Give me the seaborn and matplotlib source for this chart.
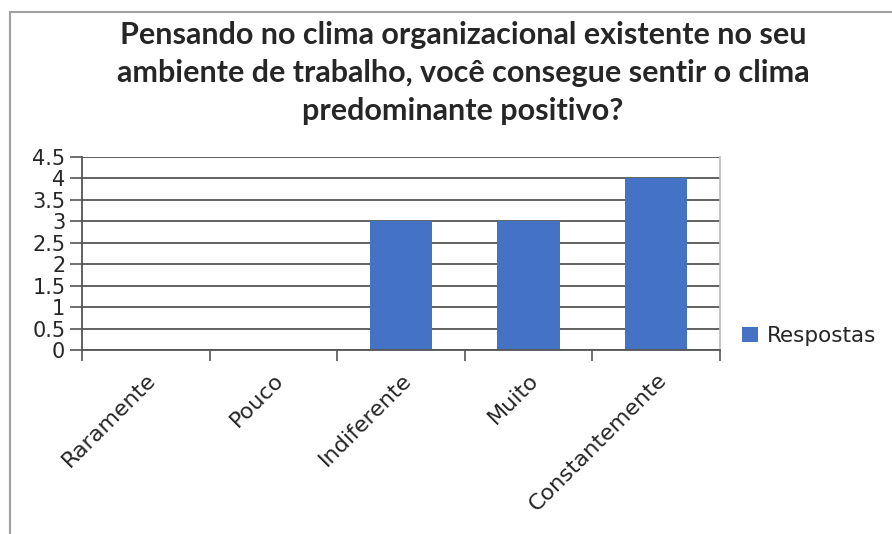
import matplotlib
matplotlib.use("Agg")
import matplotlib.pyplot as plt
import seaborn as sns
import pandas as pd
from matplotlib.patches import Patch

categories = ["Raramente", "Pouco", "Indiferente", "Muito", "Constantemente"]
values = [0, 0, 3, 3, 4]
series_name = "Respostas"
yticks = [0, 0.5, 1, 1.5, 2, 2.5, 3, 3.5, 4, 4.5]
ytick_labels = ["0", "0.5", "1", "1.5", "2", "2.5", "3", "3.5", "4", "4.5"]
title = ("Pensando no clima organizacional existente no seu\n"
         "ambiente de trabalho, você consegue sentir o clima\n"
         "predominante positivo?")

sns.set_theme(style="white")
plt.rcParams['font.family'] = ['DejaVu Sans']

df = pd.DataFrame({"cat": categories, "val": values, "serie": series_name})

fig = plt.figure(figsize=(8.92, 5.34), dpi=100)
ax = fig.add_axes([82/892, 1-350/534, (720-82)/892, (350-157)/534])

bar_color = "#4472C4"
sns.barplot(data=df, x="cat", y="val", color=bar_color, width=0.49,
            ax=ax, saturation=1, order=categories)
for p in ax.patches:
    p.set_edgecolor("none")

ax.set_xlim(-0.5, len(categories) - 0.5)
ax.set_ylim(0, 4.5)
ax.set_yticks(yticks)
ax.set_yticklabels(ytick_labels, fontsize=15)
ax.yaxis.grid(True, color="#555555", linewidth=1.3)
ax.set_axisbelow(True)
ax.set_xlabel("")
ax.set_ylabel("")

# x ticks at category boundaries, labels centered
ax.set_xticks([i - 0.5 for i in range(len(categories) + 1)])
ax.set_xticklabels([])
ax.set_xticks(range(len(categories)), minor=True)
ax.set_xticklabels(categories, minor=True, rotation=45, ha="right",
                   va="top", rotation_mode="anchor", fontsize=16)
ax.tick_params(axis="x", which="major", length=8, width=1.2, color="#555555",
               direction="out", bottom=True)
ax.tick_params(axis="x", which="minor", length=0, pad=14)
ax.tick_params(axis="y", length=9, width=1.2, color="#555555", direction="out",
               left=True, pad=3)

for s in ["left", "bottom"]:
    ax.spines[s].set_color("#555555")
    ax.spines[s].set_linewidth(1.3)
ax.spines["top"].set_visible(False)
ax.spines["right"].set_visible(True)
ax.spines["right"].set_color("#bbbbbb")
ax.spines["right"].set_linewidth(1.2)

fig.text(463/892, 1-73/534, title, ha="center", va="center",
         fontsize=22, fontweight="bold", family=["Lato", "DejaVu Sans"],
         linespacing=1.42)

handles = [Patch(facecolor=bar_color, edgecolor="none", label=series_name)]
fig.legend(handles=handles, loc="center left", bbox_to_anchor=(742/892, 1-336/534),
           frameon=False, fontsize=15.5, handlelength=0.75, handleheight=0.75,
           handletextpad=0.4, borderaxespad=0, borderpad=0)

# outer chart border (top and left)
fig.add_artist(plt.Line2D([10/892, 1], [1-12/534, 1-12/534], color="#a0a0a0",
                          linewidth=1.5, transform=fig.transFigure))
fig.add_artist(plt.Line2D([10/892, 10/892], [0, 1-12/534], color="#a0a0a0",
                          linewidth=1.5, transform=fig.transFigure))

fig.savefig("out.png", dpi=100)
